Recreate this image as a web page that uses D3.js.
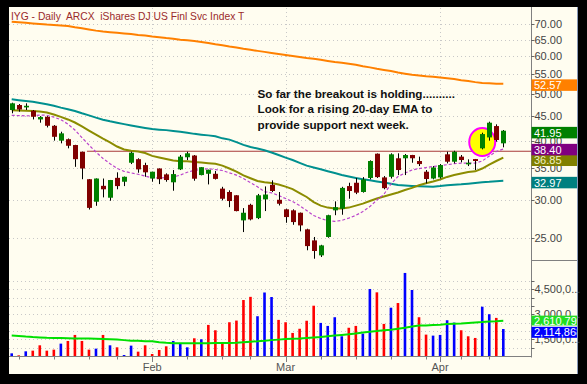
<!DOCTYPE html>
<html><head><meta charset="utf-8">
<script src="https://cdn.jsdelivr.net/npm/d3@7"></script>
<style>html,body{margin:0;padding:0;background:#000;}svg{display:block}</style>
</head><body><svg id="c" width="587" height="384"></svg>
<script>
// ---------- DATA ----------
const dates = ["2009-01-02","2009-01-05","2009-01-06","2009-01-07","2009-01-08","2009-01-09","2009-01-12","2009-01-13","2009-01-14","2009-01-15","2009-01-16","2009-01-20","2009-01-21","2009-01-22","2009-01-23","2009-01-26","2009-01-27","2009-01-28","2009-01-29","2009-01-30",
"2009-02-02","2009-02-03","2009-02-04","2009-02-05","2009-02-06","2009-02-09","2009-02-10","2009-02-11","2009-02-12","2009-02-13","2009-02-17","2009-02-18","2009-02-19","2009-02-20","2009-02-23","2009-02-24","2009-02-25","2009-02-26","2009-02-27",
"2009-03-02","2009-03-03","2009-03-04","2009-03-05","2009-03-06","2009-03-09","2009-03-10","2009-03-11","2009-03-12","2009-03-13","2009-03-16","2009-03-17","2009-03-18","2009-03-19","2009-03-20","2009-03-23","2009-03-24","2009-03-25","2009-03-26","2009-03-27","2009-03-30","2009-03-31",
"2009-04-01","2009-04-02","2009-04-03","2009-04-06","2009-04-07","2009-04-08","2009-04-09","2009-04-13","2009-04-14","2009-04-15"];
const opens = [46.35,47.47,46.93,46.19,44.29,44.86,42.96,39.99,40.27,39.16,
37.92,33.22,29.81,32.18,30.39,33.44,32.82,35.96,36.58,35.56,
33.33,34.98,34.00,32.73,34.83,36.92,37.23,33.89,34.10,34.10,
31.75,31.24,30.75,27.25,29.37,27.55,30.15,32.34,30.09,28.74,
28.60,28.27,26.10,24.75,23.03,25.16,28.60,28.82,32.14,32.66,
31.24,33.42,37.56,33.51,33.61,36.74,36.74,37.32,36.26,34.44,
33.33,33.51,37.45,36.14,37.03,35.68,36.60,38.54,40.62,42.90,39.48];
const highs = [48.00,47.70,47.86,46.35,45.00,45.00,43.11,41.75,40.41,39.20,
37.95,33.25,33.35,33.33,33.10,34.34,33.65,37.92,36.74,35.96,
34.45,35.00,34.17,34.72,37.32,37.92,37.32,35.20,34.78,34.55,
32.03,31.49,30.77,28.91,29.52,30.95,32.09,33.04,31.24,28.82,
28.74,28.30,26.18,25.16,24.23,28.00,29.86,32.03,32.66,33.44,
33.56,36.38,37.60,33.73,37.63,37.63,37.50,37.35,37.03,34.72,
35.39,35.73,37.92,38.10,37.32,36.55,36.62,41.55,43.81,43.26,42.09];
const lows = [45.62,45.97,46.35,44.29,43.60,42.62,39.99,39.48,38.54,35.26,
33.22,28.71,29.23,30.44,29.95,31.65,32.14,35.73,34.27,33.61,
32.82,32.45,32.82,31.43,34.72,36.43,32.98,33.84,32.40,33.17,
30.00,29.04,28.46,25.76,27.25,27.42,28.50,31.24,29.28,26.94,
26.68,25.85,23.60,22.66,22.85,25.07,27.94,28.00,30.24,30.92,
31.14,33.20,33.42,31.65,33.33,33.89,33.89,35.96,35.39,32.56,
33.20,33.33,35.85,35.85,36.03,35.39,34.72,38.35,39.99,39.79,38.73];
const closes = [47.86,46.46,47.30,44.86,44.80,42.96,40.74,41.42,39.02,36.58,
34.98,28.94,33.33,31.65,33.09,32.14,33.61,37.74,34.83,34.34,
34.44,33.22,33.09,34.05,37.03,37.63,33.30,35.20,34.77,33.27,
30.24,29.91,28.50,28.27,27.38,30.75,30.86,31.39,29.52,27.69,
27.03,26.60,24.08,23.52,24.16,27.94,29.04,31.86,31.39,31.14,
33.20,36.26,33.56,31.82,37.45,34.72,37.32,36.74,35.73,33.25,
35.15,35.56,36.14,37.92,36.43,35.96,36.26,41.28,43.60,40.12,41.95];
const volumes = [660000,540000,780000,820000,1140000,820000,880000,1240000,1400000,1760000,
1400000,880000,940000,1760000,1140000,1020000,560000,1120000,760000,1140000,
620000,860000,1080000,1400000,1260000,1020000,1560000,1500000,2360000,2040000,
1220000,2520000,2620000,3850000,4040000,2880000,4300000,4030000,2660000,2520000,
1880000,2130000,2610000,3510000,2480000,2300000,2820000,1680000,2190000,2300000,
1840000,4510000,4310000,2420000,3390000,3670000,5470000,4450000,2820000,1780000,
1720000,1760000,2640000,2500000,2040000,1680000,1580000,3450000,3000000,2780000,2114868];
const volumeUp = [1,0,1,0,0,0,0,1,0,0, 0,0,1,0,1,0,1,1,0,0, 0,0,0,1,1,1,0,1,0,0,
0,0,0,0,0,1,1,1,0,0, 0,0,0,0,1,1,1,1,0,0, 1,1,0,0,1,0,1,1,0,0, 1,1,1,1,0,0,0,1,1,0,1];
const ema10 = [45.17,45.13,45.06,45.11,45.24,45.19,44.79,44.24,43.32,42.09,
40.58,39.16,37.86,36.71,35.78,35.00,34.50,34.25,34.02,33.73,
33.44,33.41,33.47,33.57,33.89,34.35,34.67,34.83,34.94,34.80,
34.64,34.25,33.89,33.33,32.69,32.03,31.27,31.12,30.71,30.27,
29.83,29.26,28.57,27.90,27.50,27.22,27.12,27.25,27.55,27.92,
28.43,29.12,30.05,30.89,32.45,33.65,34.22,34.72,34.97,35.14,
35.32,35.44,35.62,35.80,35.89,35.89,35.89,36.26,37.14,37.96,38.40];
const ema20 = [46.28,46.22,46.17,46.11,45.99,45.79,45.35,44.84,44.29,43.64,
42.83,41.99,41.18,40.37,39.64,38.88,38.32,38.08,37.96,37.68,
37.17,36.88,36.61,36.34,36.20,36.22,36.08,35.99,35.87,35.77,
35.47,34.97,34.47,33.84,33.37,32.93,32.73,32.61,32.38,32.06,
31.68,31.08,30.50,29.76,29.26,28.98,28.84,28.84,28.98,29.26,
29.54,29.91,30.27,30.56,30.86,31.17,31.54,31.86,32.26,32.58,
32.85,33.17,33.59,33.89,34.14,34.39,34.50,34.97,35.65,36.26,36.85];
const sma50 = [48.79,48.58,48.40,48.21,47.93,47.63,47.30,46.88,46.53,46.13,
45.62,45.17,44.68,44.24,43.89,43.58,43.30,43.01,42.75,42.52,
42.28,42.16,42.07,41.91,41.73,41.52,41.32,41.16,41.02,40.86,
40.44,40.19,39.70,39.18,38.78,38.50,38.18,37.78,37.32,36.86,
36.43,35.94,35.47,35.16,34.85,34.52,34.22,33.91,33.65,33.41,
33.20,33.07,32.87,32.69,32.49,32.30,32.22,32.16,32.11,32.06,
32.03,32.14,32.28,32.35,32.42,32.52,32.63,32.73,32.80,32.90,32.97];
const sma200 = [70.9,70.7,70.5,70.3,70.1,69.9,69.8,69.6,69.4,69.0,
68.7,68.3,67.9,67.6,67.4,67.2,67.0,66.8,66.5,66.3,
66.0,65.8,65.5,65.3,65.0,64.8,64.6,64.3,64.0,63.6,
63.3,62.9,62.6,62.2,61.9,61.6,61.3,61.0,60.7,60.4,
60.1,59.8,59.5,59.3,59.0,58.7,58.4,58.2,57.9,57.6,
57.2,56.9,56.5,56.2,55.9,55.5,55.2,54.9,54.7,54.5,
54.4,54.2,54.0,53.8,53.5,53.3,53.0,52.8,52.7,52.6,52.57];
const volMA = [1720000,1700000,1660000,1630000,1610000,1590000,1580000,1570000,1560000,1550000,
1550000,1540000,1530000,1520000,1500000,1480000,1450000,1420000,1410000,1390000,
1380000,1320000,1290000,1270000,1260000,1260000,1270000,1270000,1270000,1280000,
1280000,1280000,1300000,1330000,1360000,1380000,1410000,1450000,1480000,1510000,
1530000,1550000,1580000,1610000,1640000,1680000,1720000,1760000,1800000,1850000,
1900000,1950000,1990000,2040000,2070000,2130000,2190000,2260000,2320000,2330000,
2350000,2370000,2410000,2430000,2450000,2480000,2510000,2530000,2560000,2580000,2610795];
const priceTicks = [25,30,35,40,45,50,55,60,65,70];
const volGrid = [1000000,1500000,2000000,2500000,3000000,3500000,4000000,4500000,5000000];
const volTicks = [1500000,3000000,4500000];
const volTickLabels = ["1,500,0...","3,000,0...","4,500,0..."];
const resistanceLevel = 38.0;
const resistanceStart = "2009-01-20";
const circledDate = "2009-04-09";
const title = "IYG - Daily  ARCX  iShares DJ US Finl Svc Index T";
const note = ["So far the breakout is holding..........","Look for a rising 20-day EMA to","provide support next week."];

// ---------- LAYOUT ----------
const svg = d3.select("#c");
const L = 9, R = 531, T = 8, PB = 260.5, VB = 356.5, AR = 577;
const x = d3.scalePoint().domain(dates).range([11.7, 503.3]);
const y = d3.scaleLog().domain([25, 70]).range([238.3, 24.3]);
const yv = d3.scaleLinear().domain([500000, 5000000]).range([356, 280.8]);
const parse = d3.timeParse("%Y-%m-%d");
const fmt2 = d3.format(".2f");
const FONT = "Liberation Sans, Arial, sans-serif";

svg.append("rect").attr("x",0).attr("y",0).attr("width",587).attr("height",384).attr("fill","#000");
svg.append("rect").attr("x",L).attr("y",T-1).attr("width",AR-L).attr("height",374-T+1).attr("fill","#fffdf0");
svg.append("line").attr("x1",AR+0.5).attr("x2",AR+0.5).attr("y1",T-1).attr("y2",374).attr("stroke","#8898b8");

const defs = svg.append("defs");
defs.append("clipPath").attr("id","pc").append("rect").attr("x",L).attr("y",T).attr("width",R-L).attr("height",PB-T);
defs.append("clipPath").attr("id","vc").append("rect").attr("x",L).attr("y",PB).attr("width",R-L).attr("height",VB-PB);

// grid
const grid = svg.append("g").attr("stroke","#c8c8c8").attr("stroke-dasharray","1,3");
grid.selectAll(".hp").data(priceTicks).join("line")
  .attr("x1",L).attr("x2",R).attr("y1",d=>Math.round(y(d))+0.5).attr("y2",d=>Math.round(y(d))+0.5);
grid.selectAll(".hv").data(volGrid).join("line")
  .attr("x1",L).attr("x2",R).attr("y1",d=>Math.round(yv(d))+0.5).attr("y2",d=>Math.round(yv(d))+0.5);
const monthStarts = dates.filter((d,i)=> i>0 && d.slice(5,7)!==dates[i-1].slice(5,7));
grid.selectAll(".vv").data(monthStarts).join("line")
  .attr("x1",d=>Math.round(x(d))+0.5).attr("x2",d=>Math.round(x(d))+0.5).attr("y1",T).attr("y2",VB);

// axes lines
svg.append("line").attr("x1",R+0.5).attr("x2",R+0.5).attr("y1",T-1).attr("y2",VB+1).attr("stroke","#808080");
svg.append("line").attr("x1",L).attr("x2",R+1).attr("y1",VB).attr("y2",VB).attr("stroke","#808080");
svg.append("line").attr("x1",R).attr("x2",AR).attr("y1",PB).attr("y2",PB).attr("stroke","#808080");

// weekly ticks / month ticks on bottom
const weekStarts = dates.filter((d,i)=> i>0 && (parse(d).getDay() < parse(dates[i-1]).getDay() || (parse(d)-parse(dates[i-1]))>3*864e5));
svg.append("g").selectAll("line").data(weekStarts).join("line")
  .attr("x1",d=>Math.round(x(d))+0.5).attr("x2",d=>Math.round(x(d))+0.5)
  .attr("y1",VB).attr("y2",d=>monthStarts.includes(d)?VB+5.5:VB+3).attr("stroke","#808080");
svg.append("g").selectAll("line").data(monthStarts).join("line")
  .attr("x1",d=>Math.round(x(d))+0.5).attr("x2",d=>Math.round(x(d))+0.5)
  .attr("y1",VB).attr("y2",VB+5.5).attr("stroke","#808080");
svg.append("g").selectAll("text").data(monthStarts).join("text")
  .attr("x",d=>x(d)).attr("y",371).attr("text-anchor","middle")
  .attr("font-family",FONT).attr("font-size",11).attr("fill","#555")
  .text(d=>d3.timeFormat("%b")(parse(d)));

// right price axis
const pa = svg.append("g").attr("font-family",FONT).attr("font-size",11).attr("fill","#444");
pa.selectAll("line").data(priceTicks).join("line").attr("x1",R).attr("x2",R+3.5)
  .attr("y1",d=>Math.round(y(d))+0.5).attr("y2",d=>Math.round(y(d))+0.5).attr("stroke","#666");
pa.selectAll("text").data(priceTicks).join("text").attr("x",R+3.5).attr("y",d=>y(d)+4).text(d=>fmt2(d));
const va = svg.append("g").attr("font-family",FONT).attr("font-size",11).attr("fill","#444");
va.selectAll("line").data(volGrid).join("line").attr("x1",R).attr("x2",R+3.5)
  .attr("y1",d=>Math.round(yv(d))+0.5).attr("y2",d=>Math.round(yv(d))+0.5).attr("stroke","#666");
va.selectAll("text").data(volTicks).join("text").attr("x",R+3.5).attr("y",d=>yv(d)+4).text((d,i)=>volTickLabels[i]);

// price panel
const pg = svg.append("g").attr("clip-path","url(#pc)");
const line = arr => d3.line().x((d,i)=>x(dates[i])).y(d=>y(d))(arr);
pg.append("line").attr("x1",x(resistanceStart)-2).attr("x2",R).attr("y1",y(resistanceLevel)).attr("y2",y(resistanceLevel))
  .attr("stroke","#a83a3a").attr("stroke-width",1.2);
pg.append("path").attr("d",line(sma200)).attr("fill","none").attr("stroke","#ff8000").attr("stroke-width",2);
pg.append("path").attr("d",line(sma50)).attr("fill","none").attr("stroke","#00908f").attr("stroke-width",2);
pg.append("path").attr("d",line(ema20)).attr("fill","none").attr("stroke","#8c8c00").attr("stroke-width",2);
pg.append("path").attr("d",line(ema10)).attr("fill","none").attr("stroke","#bb44cc").attr("stroke-width",1.2).attr("stroke-dasharray","3,2");
const ci = dates.indexOf(circledDate);
pg.append("ellipse").attr("cx",x(circledDate)).attr("cy",(y(highs[ci])+y(lows[ci]))/2+1).attr("rx",13).attr("ry",14)
  .attr("fill","#ffff00").attr("stroke","#ff00ff").attr("stroke-width",2);
const cg = pg.append("g");
dates.forEach((d,i)=>{
  const cx = Math.round(x(d));
  cg.append("line").attr("x1",cx+0.5).attr("x2",cx+0.5).attr("y1",y(highs[i])).attr("y2",y(lows[i])).attr("stroke","#000").attr("stroke-width",1);
  const up = closes[i] >= opens[i];
  const top = y(Math.max(opens[i],closes[i])), bot = y(Math.min(opens[i],closes[i]));
  cg.append("rect").attr("x",cx-2).attr("width",5).attr("y",top).attr("height",Math.max(1.2,bot-top))
    .attr("fill", up ? "#008000" : "#800000");
});

// annotation
const ng = svg.append("g").attr("font-family",FONT).attr("font-weight","bold").attr("font-size",11.7).attr("fill","#111");
ng.selectAll("text").data(note).join("text").attr("x",257.5).attr("y",(d,i)=>97.5+i*15.5).text(d=>d);

// volume panel
const vg = svg.append("g").attr("clip-path","url(#vc)");
vg.selectAll("rect").data(volumes).join("rect")
  .attr("x",(d,i)=>x(dates[i])-1.3).attr("width",2.6)
  .attr("y",d=>yv(d)).attr("height",d=>356-yv(d))
  .attr("fill",(d,i)=>volumeUp[i]?"#0000ff":"#ff0000");
vg.append("path").attr("d",d3.line().x((d,i)=>x(dates[i])).y(d=>yv(d))(volMA)).attr("fill","none").attr("stroke","#00e000").attr("stroke-width",2);

// title
svg.append("text").attr("x",11).attr("y",19.5).attr("font-family",FONT).attr("font-size",10.3)
  .attr("xml:space","preserve").style("white-space","pre")
  .attr("fill","#9a2a2a").text(title);

// value boxes
defs.append("clipPath").attr("id","bc").append("rect").attr("x",R).attr("y",0).attr("width",AR-R).attr("height",384);
const bx = svg.append("g").attr("clip-path","url(#bc)").attr("font-family",FONT).attr("font-size",11);
function box(val, text, color, textColor, scale, offset, h){
  const cy = scale(val) + offset;
  bx.append("rect").attr("x",R+0.5).attr("y",cy-h/2).attr("width",AR-R-0.5).attr("height",h).attr("fill",color);
  bx.append("text").attr("x",R+3).attr("y",cy+4).attr("fill",textColor).text(text);
}
const last = a => a[a.length-1];
box(last(sma200), fmt2(last(sma200)), "#ff8000", "#fff", y, 1.3, 11.5);
box(last(closes), fmt2(last(closes)), "#008000", "#fff", y, 1.9, 11.5);
box(last(ema20), fmt2(last(ema20)), "#808000", "#f0f0c0", y, 2.6, 11.5);
box(last(ema10), fmt2(last(ema10)), "#800080", "#fff", y, 0.5, 11.5);
box(last(sma50), fmt2(last(sma50)), "#008080", "#fff", y, 1.8, 11.5);
box(last(volMA), d3.format(",")(last(volMA)), "#22dd22", "#fff", yv, -0.2, 9.8);
box(last(volumes), d3.format(",")(last(volumes)), "#0000ff", "#fff", yv, 3.3, 11);
</script></body></html>
